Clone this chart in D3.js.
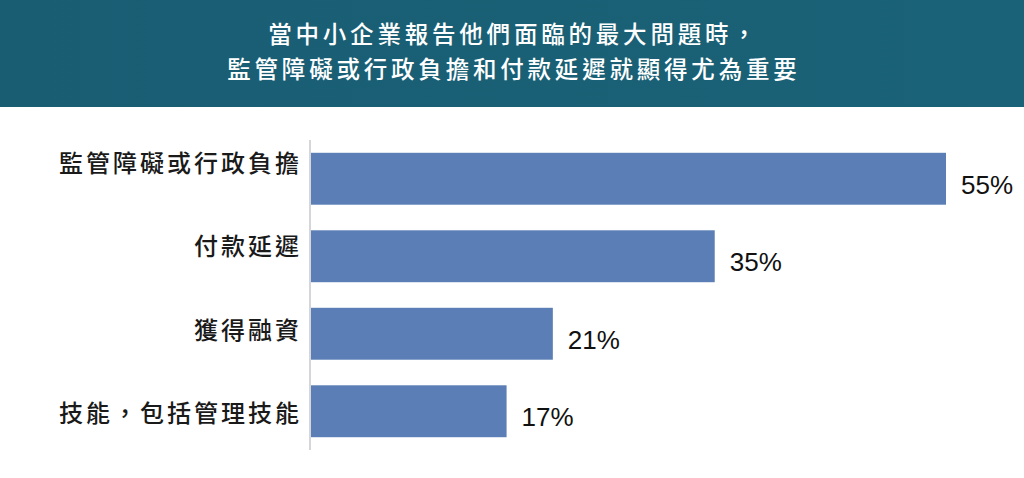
<!DOCTYPE html>
<html><head><meta charset="utf-8">
<script src="https://cdn.jsdelivr.net/npm/d3@7"></script>
<style>html,body{margin:0;padding:0;background:#fff;overflow:hidden}</style>
</head><body>
<svg id="chart" width="1024" height="478"></svg>
<script>
const titleLines = ["當中小企業報告他們面臨的最大問題時，", "監管障礙或行政負擔和付款延遲就顯得尤為重要"];
const categories = ["監管障礙或行政負擔", "付款延遲", "獲得融資", "技能，包括管理技能"];
const values = [55, 35, 21, 17];
const valueLabels = ["55%", "35%", "21%", "17%"];

const svg = d3.select("#chart");
const W = 1024, H = 478;
svg.append("rect").attr("width", W).attr("height", H).attr("fill", "#ffffff");

// header band
const grad = svg.append("defs").append("linearGradient").attr("id", "hg").attr("x1", 0).attr("x2", 1);
grad.append("stop").attr("offset", 0).attr("stop-color", "#195d73");
grad.append("stop").attr("offset", 1).attr("stop-color", "#1a6277");
svg.append("rect").attr("x", 0).attr("y", 0).attr("width", W).attr("height", 107).attr("fill", "url(#hg)");
svg.selectAll("text.title").data(titleLines).join("text")
  .attr("class", "title")
  .attr("x", W / 2 + 1.9)
  .attr("y", (d, i) => 35 + i * 34.5)
  .attr("dy", "0.35em")
  .attr("text-anchor", "middle")
  .attr("fill", "#ffffff")
  .attr("font-family", "'Noto Sans CJK TC', sans-serif")
  .attr("font-weight", 500)
  .attr("font-size", 23.5)
  .attr("letter-spacing", 3.8)
  .text(d => d);

const x0 = 310;
const x = d3.scaleLinear().domain([0, 55]).range([x0, 946]);
const y = d3.scaleBand().domain(categories).range([140, 450]).paddingInner(0.33).paddingOuter(0.165);
const yLabel = d3.scaleBand().domain(categories).range([122, 455]);

// axis line
svg.append("line").attr("x1", x0).attr("x2", x0).attr("y1", 140).attr("y2", 450)
  .attr("stroke", "#d4d6da").attr("stroke-width", 2);

const data = categories.map((c, i) => ({ c, v: values[i], l: valueLabels[i] }));

svg.selectAll("rect.bar").data(data).join("rect")
  .attr("class", "bar")
  .attr("x", x0 + 1)
  .attr("y", d => y(d.c))
  .attr("width", d => x(d.v) - x0 - 1)
  .attr("height", y.bandwidth())
  .attr("fill", "#5b7eb6");

svg.selectAll("text.cat").data(data).join("text")
  .attr("class", "cat")
  .attr("x", 299 + 3)
  .attr("y", d => yLabel(d.c) + yLabel.bandwidth() / 2)
  .attr("dy", "0.35em")
  .attr("text-anchor", "end")
  .attr("fill", "#1a1a1a")
  .attr("font-family", "'Noto Sans CJK TC', sans-serif")
  .attr("font-weight", 500)
  .attr("font-size", 24)
  .attr("letter-spacing", 3)
  .text(d => d.c);

svg.selectAll("text.val").data(data).join("text")
  .attr("class", "val")
  .attr("x", d => x(d.v) + 15)
  .attr("y", d => y(d.c) + y.bandwidth() / 2 + 6)
  .attr("dy", "0.35em")
  .attr("fill", "#111111")
  .attr("font-family", "'Liberation Sans', Arial, sans-serif")
  .attr("font-size", 26)
  .text(d => d.l);
</script>
</body></html>
